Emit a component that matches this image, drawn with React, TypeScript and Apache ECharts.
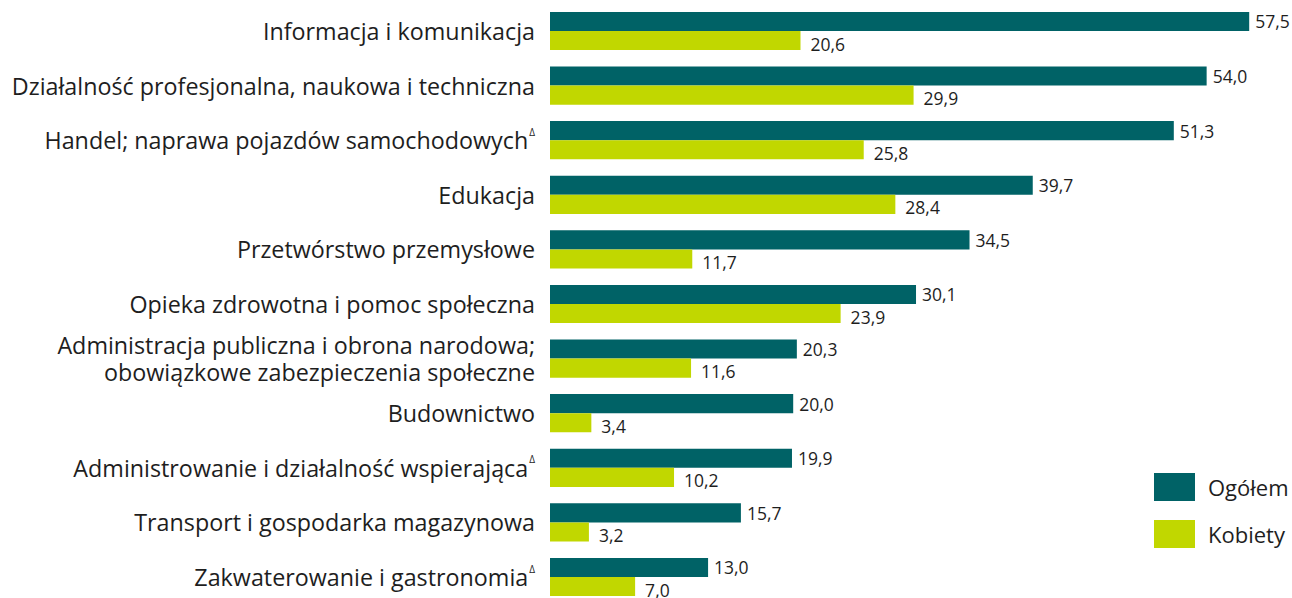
import React, { useEffect, useRef } from "react";
import * as echarts from "echarts";

const categories = [
  "Informacja i komunikacja",
  "Działalność profesjonalna, naukowa i techniczna",
  "Handel; naprawa pojazdów samochodowych{sup|Δ}",
  "Edukacja",
  "Przetwórstwo przemysłowe",
  "Opieka zdrowotna i pomoc społeczna",
  "Administracja publiczna i obrona narodowa;\nobowiązkowe zabezpieczenia społeczne",
  "Budownictwo",
  "Administrowanie i działalność wspierająca{sup|Δ}",
  "Transport i gospodarka magazynowa",
  "Zakwaterowanie i gastronomia{sup|Δ}",
];

const seriesNames = ["Ogółem", "Kobiety"];
const ogolem = [57.5, 54.0, 51.3, 39.7, 34.5, 30.1, 20.3, 20.0, 19.9, 15.7, 13.0];
const kobiety = [20.6, 29.9, 25.8, 28.4, 11.7, 23.9, 11.6, 3.4, 10.2, 3.2, 7.0];

const TEAL = "#006266";
const LIME = "#C1D700";
const TEXT = "#1e1e1e";
const FONT = "'Open Sans', 'Noto Sans', sans-serif";

const fmt = (p: any) => Number(p.value).toFixed(1).replace(".", ",");

export default function App() {
  const ref = useRef<HTMLDivElement>(null);
  useEffect(() => {
    if (!ref.current) return;
    const chart = echarts.init(ref.current, null, { renderer: "svg" });
    chart.setOption({
      animation: false,
      backgroundColor: "#ffffff",
      textStyle: { fontFamily: FONT },
      grid: {
        left: 550,
        width: 729.6,
        top: 3.7,
        height: 600.6,
        containLabel: false,
        outerBoundsMode: "none",
      },
      legend: {
        orient: "vertical",
        left: 1154,
        top: 473,
        padding: 0,
        itemWidth: 41,
        itemHeight: 28,
        itemGap: 19,
        icon: "rect",
        data: seriesNames,
        textStyle: { fontSize: 22, color: TEXT, fontFamily: FONT, padding: [0, 0, 0, 8] },
      },
      xAxis: {
        type: "value",
        min: 0,
        max: 60,
        show: false,
        splitLine: { show: false },
      },
      yAxis: {
        type: "category",
        inverse: true,
        data: categories,
        axisLine: { show: false },
        axisTick: { show: false },
        axisLabel: {
          margin: 15,
          fontSize: 23.3,
          color: TEXT,
          fontFamily: FONT,
          lineHeight: 27,
          align: "right",
          rich: {
            sup: { fontSize: 10, color: TEXT, verticalAlign: "top", padding: [0, 0, 14, 1], fontFamily: FONT },
          },
        },
      },
      series: [
        {
          name: seriesNames[0],
          type: "bar",
          data: ogolem,
          barGap: "0%",
          barCategoryGap: "30%",
          itemStyle: { color: TEAL },
          label: {
            show: true,
            position: "right",
            distance: 6,
            formatter: fmt,
            fontSize: 17.5,
            color: TEXT,
            fontFamily: FONT,
          },
        },
        {
          name: seriesNames[1],
          type: "bar",
          data: kobiety,
          barGap: "0%",
          barCategoryGap: "30%",
          itemStyle: { color: LIME },
          label: {
            show: true,
            position: "right",
            distance: 10,
            offset: [0, 3],
            formatter: fmt,
            fontSize: 17.5,
            color: TEXT,
            fontFamily: FONT,
          },
        },
      ],
    });
    return () => chart.dispose();
  }, []);
  return (
    <div
      ref={ref}
      style={{ position: "fixed", left: 0, top: 0, width: 1292, height: 598, background: "#fff" }}
    />
  );
}
